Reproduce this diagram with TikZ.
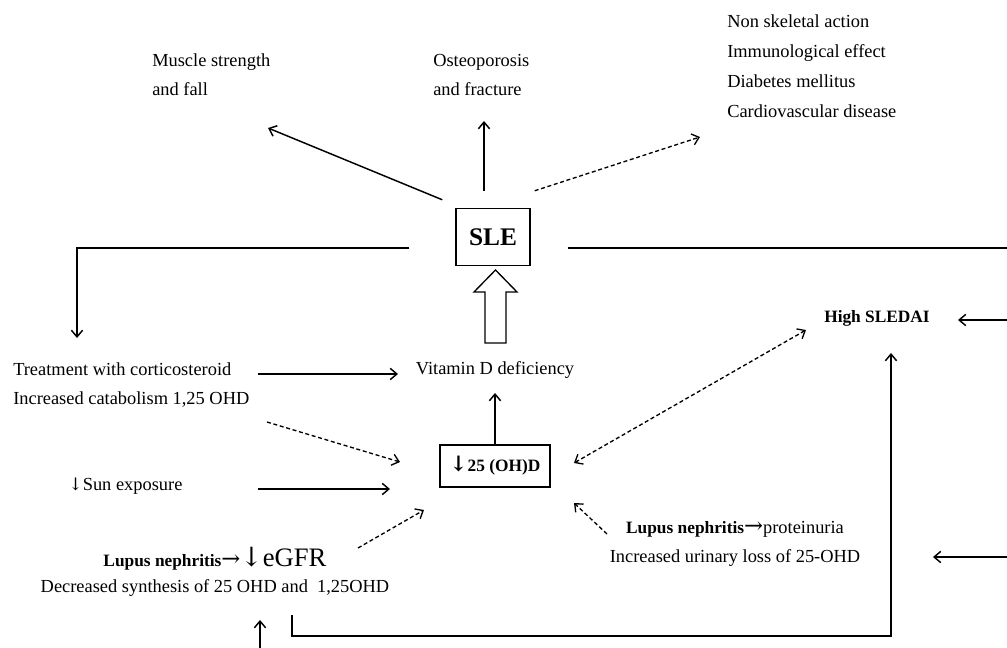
\documentclass[tikz,border=0pt]{standalone}
\usepackage{fontspec}
\setmainfont{Liberation Serif}
\newfontfamily\arrowFont{DejaVu Serif}
\usetikzlibrary{calc, arrows.meta}
\tikzstyle{diagram} = [x = 0.75pt, y = -0.75pt, >={Straight Barb[length = 5pt, width = 8.5pt]}]
\tikzstyle{boxStyle} = [draw, line width = 1.1pt, inner sep = 0pt]
\tikzstyle{plainText} = [font = \fontsize{13.8}{21.75}\selectfont, inner sep = 0pt]
\tikzstyle{leftText} = [plainText, anchor = west, align = left]
\tikzstyle{centreText} = [plainText, align = center]
\tikzstyle{plainLine} = [line width = 1.1pt]
\tikzstyle{solidArrow} = [->, line width = 1.1pt]
\tikzstyle{dashedArrow} = [->, line width = 1pt, dash pattern = on 3pt off 2pt]
\newcommand{\downArrow}[1]{{\arrowFont\fontsize{#1}{#1}\selectfont ↓}}
\newcommand{\bigRightArrow}{{\arrowFont\fontsize{17}{17}\selectfont →}}

\begin{document}
\begin{tikzpicture}[diagram]
  \useasboundingbox (0,0) rectangle (1007,648);

  % what SLE leads to
  \node [leftText] (muscle) at (152,75) {Muscle strength\\and fall};
  \node [leftText] (osteo) at (433,75) {Osteoporosis\\and fracture};
  \node [leftText, font = \fontsize{13.8}{22.5}\selectfont] (nonSkeletal) at (727,66)
    {Non skeletal action\\Immunological effect\\Diabetes mellitus\\Cardiovascular disease};
  \node [boxStyle, minimum width = 55.5pt, minimum height = 42.75pt,
    font = \fontsize{19}{19}\selectfont\bfseries] (sle) at (493,237) {SLE};

  % causes
  \node [plainText] (vitD) at (495,370) {Vitamin D deficiency};
  \node [leftText] (treatment) at (13,385) {Treatment with corticosteroid\\Increased catabolism 1,25 OHD};
  \node [boxStyle, minimum width = 82.5pt, minimum height = 31.5pt,
    font = \fontsize{13}{13}\selectfont\bfseries] (ohd) at (495,466) {\downArrow{16}25 (OH)D};
  \node [leftText] (sun) at (68,486) {\downArrow{13}Sun exposure};
  \node [centreText] (egfr) at (215,572)
    {{\bfseries\fontsize{13}{13}\selectfont Lupus nephritis}\bigRightArrow{\fontsize{20}{20}\selectfont\downArrow{20}eGFR}\\[-2pt]
     Decreased synthesis of 25 OHD and\ \ 1,25OHD};
  \node [centreText] (proteinuria) at (735,544)
    {{\bfseries\fontsize{13}{13}\selectfont Lupus nephritis}\bigRightArrow proteinuria\\Increased urinary loss of 25-OHD};
  \node [plainText, font = \fontsize{13}{13}\selectfont\bfseries] (sledai) at (877,318) {High SLEDAI};

  % loose ends at the border
  \coordinate (rightTop) at (1007,248);
  \coordinate (rightHigh) at (1007,320);
  \coordinate (rightLow) at (1007,557);
  \coordinate (rightLowTip) at (933,557);
  \coordinate (bottomIn) at (260,648);
  \coordinate (loopCorner) at (891,636);

  % SLE outwards
  \draw [solidArrow] ($(sle.north west)+(-13,-8)$) -- ($(muscle.west)+(116,53)$);
  \draw [solidArrow] ($(sle.north)+(-9,-17)$) -- ($(osteo.west)+(51,46)$);
  \draw [dashedArrow] ($(sle.north east)+(4,-17)$) -- ($(nonSkeletal.west)+(-27,71)$);
  \draw [solidArrow] ($(sle.west)+(-46,11)$) -| ($(treatment.west)+(64,-47)$);
  \draw [plainLine] ($(sle.east)+(37,11)$) -- (rightTop);

  % block arrow up to SLE
  \draw [line width = 1pt, fill = white] (485,343) -- (485,292) -- (474,292) -- (495.5,270)
    -- (517,292) -- (506,292) -- (506,343) -- cycle;

  % into vitamin D and 25 (OH)D
  \draw [solidArrow] ($(treatment.west)+(245,-11)$) -- ($(vitD.center)+(-97,4)$);
  \draw [dashedArrow] ($(treatment.west)+(254,37)$) -- ($(ohd.center)+(-95,-4)$);
  \draw [solidArrow] (ohd.north) -- ($(vitD.center)+(0,23)$);
  \draw [solidArrow] ($(sun.west)+(190,3)$) -- ($(ohd.center)+(-105,23)$);
  \draw [dashedArrow] ($(egfr.center)+(143,-24)$) -- ($(ohd.center)+(-71,44)$);
  \draw [dashedArrow] ($(proteinuria.center)+(-128,-10)$) -- ($(ohd.center)+(79,37)$);
  \draw [dashedArrow, <->] ($(ohd.center)+(79,-3)$) -- ($(sledai.center)+(-71,12)$);

  % towards high SLEDAI
  \draw [solidArrow] (rightHigh) -- ($(sledai.center)+(81,2)$);
  \draw [solidArrow] ($(egfr.center)+(77,43)$) |- (loopCorner) -- ($(sledai.center)+(14,35)$);
  \draw [plainLine] ($(proteinuria.center)+(-3,44)$) -- ($(proteinuria.center)+(-3,44)$ |- loopCorner);
  \draw [solidArrow] (rightLow) -- (rightLowTip);
  \draw [solidArrow] (bottomIn) -- ($(egfr.center)+(45,48)$);
\end{tikzpicture}
\end{document}
